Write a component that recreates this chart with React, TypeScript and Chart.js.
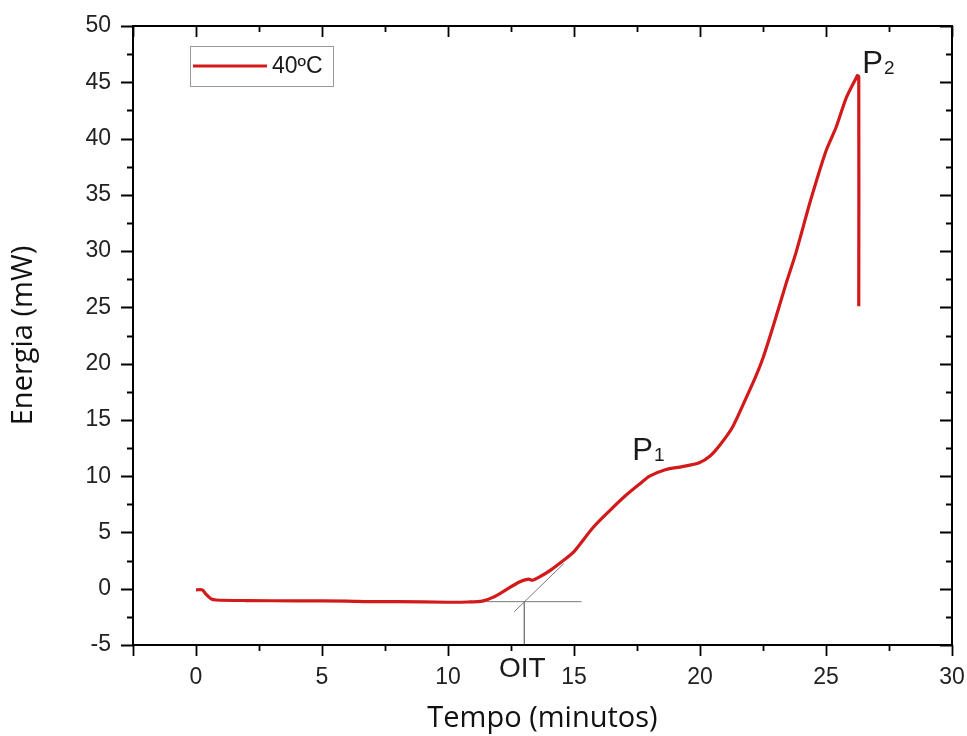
import React, { useEffect, useRef } from 'react';
import { Chart, registerables } from 'chart.js';

Chart.register(...registerables);

// ---- data ----
const timeMin = [0, 0.25, 0.4, 0.6, 0.8, 2, 4, 6, 6.8, 8, 10, 10.8, 11.36, 11.8, 12.3, 12.83, 13.2, 13.35, 13.6, 14.1, 14.6, 15.0, 15.74, 16.4, 17.06, 17.6, 18.0, 18.65, 19.3, 19.97, 20.4, 20.8, 21.3, 21.8, 22.2, 22.5, 22.9, 23.4, 23.8, 24.4, 25.0, 25.4, 25.8, 26.2, 26.25, 26.3, 26.3];
const energy = [-0.1, -0.1, -0.5, -0.9, -1.0, -1.05, -1.08, -1.1, -1.15, -1.15, -1.2, -1.18, -1.1, -0.75, -0.1, 0.6, 0.85, 0.75, 1.0, 1.7, 2.55, 3.3, 5.4, 6.9, 8.3, 9.3, 10.0, 10.6, 10.85, 11.2, 11.8, 12.8, 14.4, 16.8, 18.8, 20.5, 23.3, 27.0, 29.8, 34.6, 38.9, 41.0, 43.6, 45.4, 45.6, 45.5, 25.1];
const seriesLabel = '40ºC';

// OIT construction lines
const baselineX = [9.5, 15.3];
const baselineY = [-1.15, -1.15];
const tangentX = [12.63, 14.6];
const tangentY = [-2.04, 2.24];
const oitX = [13.03, 13.03];
const oitY = [-1.15, -5];

// annotations: [text, subscript, x, y]
const peakLabels: [string, string, number, number][] = [
  ['P', '1', 17.31, 11.43],
  ['P', '2', 26.44, 45.8],
];
const oitLabel: [string, number, number] = ['OIT', 12.95, -7.84];

// axes
const xMin = -2.5, xMax = 30;
const yMin = -5, yMax = 50;
const xTickValues = [-2.5, 0, 2.5, 5, 7.5, 10, 12.5, 15, 17.5, 20, 22.5, 25, 27.5, 30];
const xTickLabels = ['', '0', '', '5', '', '10', '', '15', '', '20', '', '25', '', '30'];
const yTickValues = [-5, -2.5, 0, 2.5, 5, 7.5, 10, 12.5, 15, 17.5, 20, 22.5, 25, 27.5, 30, 32.5, 35, 37.5, 40, 42.5, 45, 47.5, 50];
const yTickLabels = ['-5', '', '0', '', '5', '', '10', '', '15', '', '20', '', '25', '', '30', '', '35', '', '40', '', '45', '', '50'];
const xTitle = 'Tempo (minutos)';
const yTitle = 'Energia (mW)';

const RED = '#d21a1a';
const GRAY = '#7a7a7a';

const toPts = (xs: number[], ys: number[]) => xs.map((x, i) => ({ x, y: ys[i] }));

const decorPlugin = {
  id: 'decor',
  afterDraw(chart: any) {
    const { ctx, chartArea: a, scales } = chart;
    const sx = scales.x, sy = scales.y;
    ctx.save();
    // frame
    ctx.strokeStyle = '#000';
    ctx.lineWidth = 2;
    ctx.strokeRect(a.left, a.top, a.right - a.left, a.bottom - a.top);
    // ticks
    ctx.lineWidth = 1.8;
    ctx.beginPath();
    xTickValues.forEach((v, i) => {
      const len = xTickLabels[i] !== '' || i === 0 ? 11 : 6;
      const px = Math.round(sx.getPixelForValue(v)) + 0.5;
      ctx.moveTo(px, a.bottom); ctx.lineTo(px, a.bottom + len);
      ctx.moveTo(px, a.top); ctx.lineTo(px, a.top + len);
    });
    yTickValues.forEach((v, i) => {
      const len = yTickLabels[i] !== '' ? 12 : 6;
      const py = Math.round(sy.getPixelForValue(v)) + 0.5;
      ctx.moveTo(a.left, py); ctx.lineTo(a.left - len, py);
      ctx.moveTo(a.right, py); ctx.lineTo(a.right - len, py);
    });
    ctx.stroke();

    // legend
    const ds = chart.data.datasets[0];
    const lx = a.left + 57, ly = a.top + 20, lw = 143, lh = 40;
    ctx.fillStyle = '#fff';
    ctx.fillRect(lx, ly, lw, lh);
    ctx.strokeStyle = '#9a9a9a';
    ctx.lineWidth = 1;
    ctx.strokeRect(lx + 0.5, ly + 0.5, lw, lh);
    ctx.strokeStyle = ds.borderColor;
    ctx.lineWidth = 3;
    ctx.beginPath();
    ctx.moveTo(lx + 3, ly + lh / 2);
    ctx.lineTo(lx + 77, ly + lh / 2);
    ctx.stroke();
    ctx.fillStyle = '#1a1a1a';
    ctx.font = '23px "Liberation Sans", Arial, sans-serif';
    ctx.textBaseline = 'middle';
    ctx.textAlign = 'left';
    ctx.fillText(ds.label, lx + 82, ly + lh / 2 + 1);

    // peak labels
    ctx.textBaseline = 'alphabetic';
    for (const [t, sub, vx, vy] of peakLabels) {
      const px = sx.getPixelForValue(vx);
      const py = sy.getPixelForValue(vy);
      ctx.font = '31px "Liberation Sans", Arial, sans-serif';
      ctx.fillText(t, px, py);
      const w = ctx.measureText(t).width;
      ctx.font = '19px "Liberation Sans", Arial, sans-serif';
      ctx.fillText(sub, px + w + 1, py + 1);
    }
    // OIT label
    ctx.font = '28px "Liberation Sans", Arial, sans-serif';
    ctx.textAlign = 'center';
    ctx.fillText(oitLabel[0], sx.getPixelForValue(oitLabel[1]), sy.getPixelForValue(oitLabel[2]));
    ctx.restore();
  },
};

export default function App() {
  const ref = useRef<HTMLCanvasElement | null>(null);
  useEffect(() => {
    document.body.style.margin = '0';
    const canvas = ref.current;
    if (!canvas) return;
    const chart = new Chart(canvas, {
      type: 'line',
      data: {
        datasets: [
          {
            label: seriesLabel,
            data: toPts(timeMin, energy),
            borderColor: RED,
            borderWidth: 3.2,
            pointRadius: 0,
            tension: 0.25,
            fill: false,
          },
          { label: 'baseline', data: toPts(baselineX, baselineY), borderColor: GRAY, borderWidth: 1, pointRadius: 0, tension: 0 },
          { label: 'tangent', data: toPts(tangentX, tangentY), borderColor: GRAY, borderWidth: 1, pointRadius: 0, tension: 0 },
          { label: 'OIT', data: toPts(oitX, oitY), borderColor: GRAY, borderWidth: 1, pointRadius: 0, tension: 0 },
        ],
      },
      options: {
        responsive: false,
        animation: false,
        devicePixelRatio: 1,
        layout: { padding: { top: 26, right: 15, left: 0, bottom: 0 } },
        plugins: { legend: { display: false }, tooltip: { enabled: false } },
        scales: {
          x: {
            type: 'linear',
            min: xMin,
            max: xMax,
            grid: { display: false, drawTicks: false },
            border: { display: false },
            afterBuildTicks: (s: any) => { s.ticks = xTickValues.map((value) => ({ value })); },
            ticks: {
              padding: 19,
              color: '#222',
              font: { family: '"Liberation Sans", Arial, sans-serif', size: 23 },
              callback: (_v: any, i: number) => xTickLabels[i],
              maxRotation: 0,
              autoSkip: false,
            },
            title: {
              display: true,
              text: xTitle,
              color: '#111',
              font: { family: '"Open Sans", sans-serif', size: 29 },
              padding: { top: 0, bottom: 0 },
            },
            afterFit: (s: any) => { s.height = 91; s.paddingLeft = 0; s.paddingRight = 0; },
          },
          y: {
            type: 'linear',
            min: yMin,
            max: yMax,
            grid: { display: false, drawTicks: false },
            border: { display: false },
            afterBuildTicks: (s: any) => { s.ticks = yTickValues.map((value) => ({ value })); },
            ticks: {
              padding: 22,
              color: '#222',
              autoSkip: false,
              font: { family: '"Liberation Sans", Arial, sans-serif', size: 23 },
              callback: (_v: any, i: number) => yTickLabels[i],
            },
            title: {
              display: true,
              text: yTitle,
              color: '#111',
              font: { family: '"Open Sans", sans-serif', size: 29 },
              padding: { top: 6, bottom: 0 },
            },
            afterFit: (s: any) => { s.width = 133; s.paddingTop = 0; s.paddingBottom = 0; },
          },
        },
      },
      plugins: [decorPlugin],
    } as any);
    return () => chart.destroy();
  }, []);
  return (
    <div style={{ width: 967, height: 736, background: '#fff' }}>
      <canvas ref={ref} width={967} height={736} style={{ display: 'block' }} />
    </div>
  );
}
